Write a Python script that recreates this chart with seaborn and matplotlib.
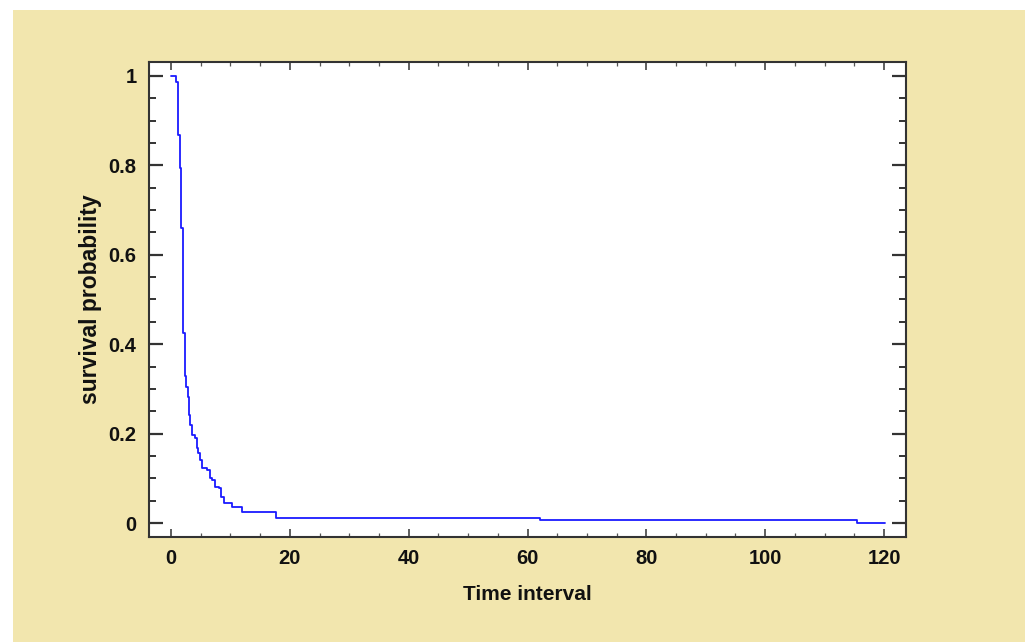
import matplotlib
matplotlib.use("Agg")
import matplotlib.pyplot as plt
import matplotlib.patches as mpatches
from matplotlib.ticker import MultipleLocator
import seaborn as sns
import pandas as pd

# Kaplan-Meier style survival estimate
time = [0, 0.8, 1.1, 1.5, 1.7, 1.97, 2.08, 2.36, 2.6, 2.8, 3.0, 3.2, 3.5, 4.0, 4.3,
        4.6, 4.9, 5.3, 6.0, 6.5, 6.85, 7.4, 8.1, 8.5, 8.9, 10.2, 11.9, 17.7, 62.1,
        115.5, 120.2]
survival = [1.0, 0.987, 0.868, 0.794, 0.66, 0.544, 0.425, 0.329, 0.305, 0.283,
            0.242, 0.219, 0.197, 0.19, 0.168, 0.157, 0.141, 0.123, 0.119, 0.10,
            0.096, 0.081, 0.078, 0.059, 0.044, 0.035, 0.025, 0.012, 0.0067,
            0.0, 0.0]

x_ticks = [0, 20, 40, 60, 80, 100, 120]
y_ticks = [0, 0.2, 0.4, 0.6, 0.8, 1]
y_tick_labels = ["0", "0.2", "0.4", "0.6", "0.8", "1"]

df = pd.DataFrame({"time": time, "survival": survival})

sns.set_style("white")
plt.rcParams["font.family"] = ["Liberation Sans", "DejaVu Sans"]

fig = plt.figure(figsize=(10.25, 6.42), dpi=100, facecolor="white")
# beige panel behind the plot
fig.patches.append(mpatches.Rectangle((13 / 1025, 0), 1, 1 - 10 / 642,
                                      transform=fig.transFigure,
                                      facecolor="#f2e6ae", edgecolor="none", zorder=-1))

ax = fig.add_axes([149 / 1025, 1 - 537 / 642, 757 / 1025, 475 / 642])
ax.set_facecolor("white")

sns.lineplot(data=df, x="time", y="survival", ax=ax, color="#1a1aff",
             linewidth=1.3, drawstyle="steps-post", estimator=None, sort=False)

ax.set_xlim(-3.7, 123.7)
ax.set_ylim(-0.031, 1.031)
ax.set_xticks(x_ticks)
ax.set_yticks(y_ticks)
ax.set_yticklabels(y_tick_labels)
ax.xaxis.set_minor_locator(MultipleLocator(5))
ax.yaxis.set_minor_locator(MultipleLocator(0.05))

for side in ["left", "right", "top", "bottom"]:
    ax.spines[side].set_visible(True)
    ax.spines[side].set_color("#333333")
    ax.spines[side].set_linewidth(1.5)

ax.tick_params(axis="x", which="major", direction="in", top=True, bottom=True,
               length=6, width=1.1, color="#333333", pad=9)
ax.tick_params(axis="x", which="minor", direction="in", top=True, bottom=True,
               length=3, width=0.9, color="#555555")
ax.tick_params(axis="y", which="major", direction="in", left=True, right=True,
               length=10, width=1.6, color="#333333", pad=9)
ax.tick_params(axis="y", which="minor", direction="in", left=True, right=True,
               length=5, width=1.4, color="#333333")

for lab in ax.get_xticklabels() + ax.get_yticklabels():
    lab.set_fontsize(14.5)
    lab.set_fontweight("bold")
    lab.set_color("#111111")

ax.set_xlabel("Time interval", fontsize=15, fontweight="bold", color="#111111", labelpad=12)
ax.set_ylabel("survival probability", fontsize=16.5, fontweight="bold", color="#111111",
              labelpad=5)

fig.savefig("out.png", dpi=100, facecolor=fig.get_facecolor())
